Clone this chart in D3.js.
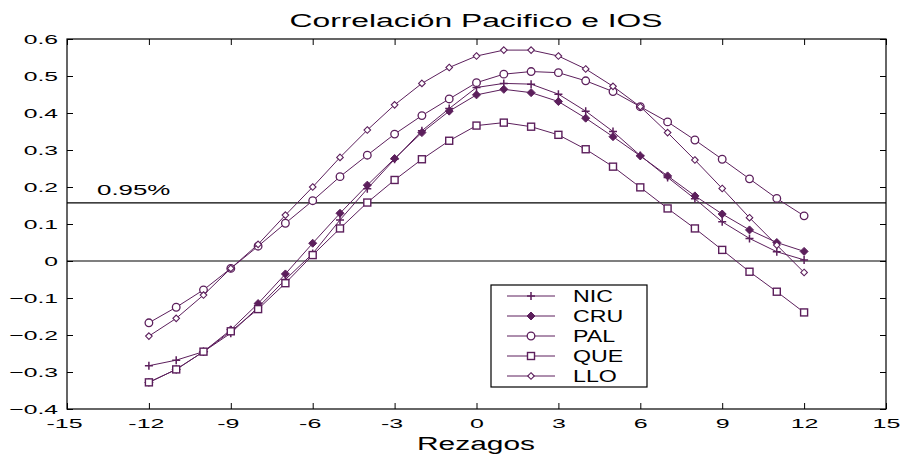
<!DOCTYPE html>
<html><head><meta charset="utf-8">
<script src="https://cdn.jsdelivr.net/npm/d3@7"></script>
<style>body{margin:0;background:#fff}svg{display:block}text{font-family:"Liberation Sans",Arial,sans-serif}</style>
</head><body>
<svg id="c" width="902" height="461"></svg>
<script>
const lags = [-12,-11,-10,-9,-8,-7,-6,-5,-4,-3,-2,-1,0,1,2,3,4,5,6,7,8,9,10,11,12];
const NIC = [-0.283,-0.268,-0.245,-0.195,-0.125,-0.05,0.02,0.111,0.195,0.275,0.352,0.412,0.469,0.480,0.478,0.451,0.405,0.350,0.285,0.226,0.168,0.106,0.061,0.025,0.003];
const CRU = [-0.328,-0.293,-0.245,-0.186,-0.115,-0.035,0.048,0.129,0.205,0.277,0.347,0.405,0.449,0.464,0.455,0.431,0.386,0.336,0.284,0.230,0.176,0.127,0.084,0.050,0.026];
const PAL = [-0.167,-0.125,-0.078,-0.02,0.04,0.102,0.163,0.228,0.286,0.343,0.393,0.438,0.482,0.505,0.512,0.509,0.487,0.458,0.417,0.376,0.327,0.275,0.222,0.169,0.122];
const QUE = [-0.328,-0.293,-0.245,-0.19,-0.13,-0.06,0.016,0.088,0.158,0.219,0.275,0.325,0.366,0.374,0.363,0.341,0.302,0.255,0.199,0.142,0.088,0.030,-0.029,-0.083,-0.139];
const LLO = [-0.203,-0.155,-0.092,-0.02,0.045,0.124,0.2,0.28,0.354,0.422,0.48,0.523,0.554,0.570,0.570,0.554,0.519,0.472,0.417,0.347,0.273,0.196,0.117,0.043,-0.031];
const seriesNames = ["NIC","CRU","PAL","QUE","LLO"];
const seriesVals = [NIC,CRU,PAL,QUE,LLO];
const xTicks = [-15,-12,-9,-6,-3,0,3,6,9,12,15];
const yTicks = [-0.4,-0.3,-0.2,-0.1,0,0.1,0.2,0.3,0.4,0.5,0.6];
const threshold = 0.157;
const thresholdLabel = "0.95%";
const title = "Correlación Pacifico e IOS";
const xLabel = "Rezagos";

const col = "#5c1f5c";
const svg = d3.select("#c");
const L=67, R=886, T=39, B=409;
const x = d3.scaleLinear().domain([-15,15]).range([L,R]);
const y = d3.scaleLinear().domain([-0.4,0.6]).range([B,T]);

function wideText(parent, tx, ty, str, size, sx, anchor){
  return parent.append("text").attr("transform",`translate(${tx},${ty}) scale(${sx},1)`)
    .attr("font-size",size).attr("text-anchor",anchor||"start").attr("fill","#000").text(str);
}

// frame
svg.append("rect").attr("x",L).attr("y",T).attr("width",R-L).attr("height",B-T)
  .attr("fill","none").attr("stroke","#000").attr("stroke-width",1.2);

const fmt = d => d===0 ? "0" : d3.format(".1f")(d);
const ax = (g)=>g.selectAll(".domain").remove();
const gx = svg.append("g").attr("transform",`translate(0,${B})`)
  .call(d3.axisBottom(x).tickValues(xTicks).tickSize(-6).tickFormat(d=>d<0?"-"+Math.abs(d):String(d))).call(ax);
svg.append("g").attr("transform",`translate(0,${T})`)
  .call(d3.axisTop(x).tickValues(xTicks).tickSize(-6).tickFormat("")).call(ax);
const gy = svg.append("g").attr("transform",`translate(${L},0)`)
  .call(d3.axisLeft(y).tickValues(yTicks).tickSize(-6).tickFormat(fmt)).call(ax);
svg.append("g").attr("transform",`translate(${R},0)`)
  .call(d3.axisRight(y).tickValues(yTicks).tickSize(-6).tickFormat("")).call(ax);
svg.selectAll(".tick line").attr("stroke","#000");
gx.selectAll(".tick text").each(function(d){
  d3.select(this).attr("x",0).attr("y",0).attr("dy",null).attr("font-size",13.5).attr("fill","#000")
    .attr("font-family","Liberation Sans, Arial, sans-serif")
    .attr("transform",`translate(${d<0?-3:0},19) scale(1.85,1)`);
});
gy.selectAll(".tick text").each(function(d){
  d3.select(this).attr("x",0).attr("y",0).attr("dy","0.35em").attr("font-size",13).attr("fill","#000")
    .attr("font-family","Liberation Sans, Arial, sans-serif")
    .attr("transform",`translate(-9,0) scale(1.9,1)`);
});

// reference lines
svg.append("line").attr("x1",L).attr("x2",R).attr("y1",y(0)).attr("y2",y(0)).attr("stroke","#000").attr("stroke-width",1.2);
svg.append("line").attr("x1",L).attr("x2",R).attr("y1",y(threshold)).attr("y2",y(threshold)).attr("stroke","#000").attr("stroke-width",1.2);
wideText(svg, 97, y(threshold)-8, thresholdLabel, 14, 1.85);

// markers
function marker(g, i, cx, cy){
  if(i===0){ // plus
    g.append("path").attr("d",`M${cx-4},${cy}H${cx+4}M${cx},${cy-4}V${cy+4}`).attr("stroke",col).attr("stroke-width",1.5).attr("fill","none");
  } else if(i===1){ // filled diamond
    g.append("path").attr("d",`M${cx},${cy-4}L${cx+4},${cy}L${cx},${cy+4}L${cx-4},${cy}Z`).attr("fill",col).attr("stroke",col);
  } else if(i===2){ // circle
    g.append("circle").attr("cx",cx).attr("cy",cy).attr("r",3.8).attr("fill","#fff").attr("stroke",col).attr("stroke-width",1.3);
  } else if(i===3){ // square
    g.append("rect").attr("x",cx-3.5).attr("y",cy-3.5).attr("width",7).attr("height",7).attr("fill","#fff").attr("stroke",col).attr("stroke-width",1.4);
  } else { // small diamond
    g.append("path").attr("d",`M${cx},${cy-3.3}L${cx+3.3},${cy}L${cx},${cy+3.3}L${cx-3.3},${cy}Z`).attr("fill","#fff").attr("stroke",col).attr("stroke-width",1.1);
  }
}
const line = d3.line().x(d=>x(d[0])).y(d=>y(d[1]));
seriesVals.forEach((vals,i)=>{
  const pts = lags.map((l,j)=>[l,vals[j]]);
  const g = svg.append("g");
  g.append("path").attr("d",line(pts)).attr("fill","none").attr("stroke",col).attr("stroke-width",1);
  pts.forEach(p=>marker(g,i,x(p[0]),y(p[1])));
});

// legend
const lg = svg.append("g");
lg.append("rect").attr("x",491).attr("y",285).attr("width",156).attr("height",102).attr("fill","#fff").attr("stroke","#000").attr("stroke-width",1.2);
seriesNames.forEach((n,i)=>{
  const yy = 296 + i*20;
  lg.append("line").attr("x1",507).attr("x2",555).attr("y1",yy).attr("y2",yy).attr("stroke",col).attr("stroke-width",1);
  marker(lg,i,531,yy);
  wideText(lg, 573, yy+6, n, 16, 1.45);
});

svg.append("text").attr("x",476).attr("y",27).attr("text-anchor","middle").attr("font-size",18)
  .attr("textLength",373).attr("lengthAdjust","spacingAndGlyphs").text(title);
svg.append("text").attr("x",476).attr("y",450).attr("text-anchor","middle").attr("font-size",18)
  .attr("textLength",118).attr("lengthAdjust","spacingAndGlyphs").text(xLabel);
</script>
</body></html>
